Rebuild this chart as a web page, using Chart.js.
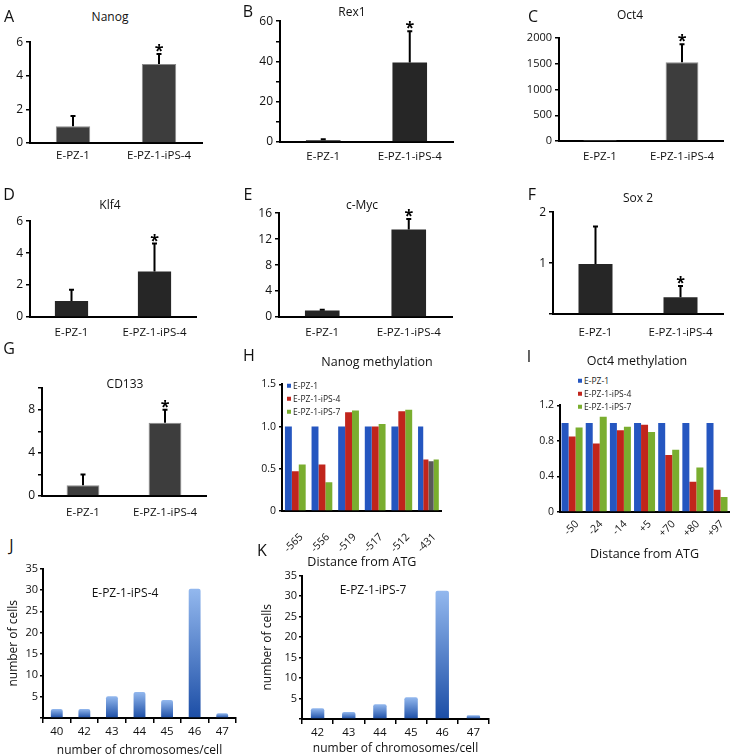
<!DOCTYPE html>
<html><head><meta charset="utf-8">
<script src="https://cdn.jsdelivr.net/npm/chart.js@4.4.1/dist/chart.umd.min.js"></script>
<style>
html,body{margin:0;padding:0;background:#fff;}
#root{position:relative;width:732px;height:756px;overflow:hidden;font-family:'Open Sans',sans-serif;color:#111;}
canvas{position:absolute;}
.t{position:absolute;white-space:nowrap;line-height:1;transform:translate(-50%,-50%);}
.lg{position:absolute;white-space:nowrap;line-height:1;font-size:8.5px;color:#222;transform:translateY(-50%);}
.sq{display:inline-block;width:4px;height:4px;margin-right:2px;vertical-align:middle;position:relative;top:-1px;}
</style></head><body><div id="root"></div>
<script>
// ---------------- DATA ----------------
const groups = ['E-PZ-1', 'E-PZ-1-iPS-4'];
const significant = [false, true];
const nanogExpr = [1, 4.7];     const nanogErr = [1.6, 5.3];
const rex1Expr  = [0.9, 39.5];  const rex1Err  = [1.4, 55];
const oct4Expr  = [1, 1530];    const oct4Err  = [null, 1880];
const klf4Expr  = [1, 2.85];    const klf4Err  = [1.7, 4.6];
const cmycExpr  = [1, 13.5];    const cmycErr  = [1.1, 15.1];
const sox2Expr  = [0.98, 0.33]; const sox2Err  = [1.72, 0.55];
const cd133Expr = [1, 6.8];     const cd133Err = [2, 8];

const seriesNames = ['E-PZ-1', 'E-PZ-1-iPS-4', 'E-PZ-1-iPS-7'];
const nanogSites = ['-565', '-556', '-519', '-517', '-512', '-431'];
const nanogMethEPZ1 = [1, 1, 1, 1, 1, 1];
const nanogMethIPS4 = [0.47, 0.55, 1.17, 1.0, 1.18, 0.61];
const nanogMethExtra = [null, null, null, null, null, 0.59];
const nanogMethIPS7 = [0.55, 0.34, 1.19, 1.03, 1.2, 0.61];

const oct4Sites = ['-50', '-24', '-14', '+5', '+70', '+80', '+97'];
const oct4MethEPZ1 = [1, 1, 1, 1, 1, 1, 1];
const oct4MethIPS4 = [0.85, 0.77, 0.92, 0.98, 0.64, 0.34, 0.25];
const oct4MethIPS7 = [0.95, 1.07, 0.96, 0.90, 0.70, 0.50, 0.17];

const chromosomesJ = ['40', '42', '43', '44', '45', '46', '47'];
const cellsJ = [2.1, 2.1, 5.1, 6.1, 4.2, 30.3, 1.1];
const chromosomesK = ['42', '43', '44', '45', '46', '47'];
const cellsK = [2.6, 1.7, 3.6, 5.3, 31.3, 0.9];

// ---------------- SETUP ----------------
const FONT = "'Open Sans', sans-serif";
Chart.defaults.font.family = FONT;
Chart.defaults.color = '#111';
Chart.defaults.animation = false;
const root = document.getElementById('root');

function addText(s, x, y, size, extra) {
  const d = document.createElement('div');
  d.className = 't'; d.textContent = s;
  d.style.left = x + 'px'; d.style.top = y + 'px'; d.style.fontSize = size + 'px';
  if (extra) Object.assign(d.style, extra);
  root.appendChild(d);
}
function addLegend(x, ys, colors) {
  seriesNames.forEach((n, i) => {
    const d = document.createElement('div');
    d.className = 'lg';
    d.style.left = x + 'px'; d.style.top = ys[i] + 'px';
    const s = document.createElement('span'); s.className = 'sq'; s.style.background = colors[i];
    d.appendChild(s); d.appendChild(document.createTextNode(n));
    root.appendChild(d);
  });
}

const errorBarPlugin = {
  id: 'errorBars',
  afterDatasetsDraw(chart, args, opts) {
    if (!opts || !opts.errors) return;
    const meta = chart.getDatasetMeta(0);
    const ys = chart.scales.y;
    const ctx = chart.ctx;
    ctx.save();
    opts.errors.forEach((e, i) => {
      const bar = meta.data[i]; if (!bar) return;
      let topY = bar.y;
      if (e != null) {
        topY = ys.getPixelForValue(e);
        ctx.strokeStyle = '#000'; ctx.lineWidth = 2;
        ctx.beginPath();
        ctx.moveTo(bar.x, bar.y); ctx.lineTo(bar.x, topY);
        ctx.moveTo(bar.x - 2.5, topY); ctx.lineTo(bar.x + 2.5, topY);
        ctx.stroke();
      }
      if (opts.stars && opts.stars[i]) {
        ctx.fillStyle = '#000'; ctx.font = 'bold 16px ' + FONT;
        ctx.textAlign = 'center'; ctx.textBaseline = 'alphabetic';
        ctx.fillText('*', bar.x, topY + 2);
      }
    });
    ctx.restore();
  }
};
Chart.register(errorBarPlugin);

function makeChart(box, config) {
  const c = document.createElement('canvas');
  const w = box.yW + (box.right - box.ax) + box.padR;
  const h = box.padT + (box.bottom - box.top) + box.xH;
  c.width = w; c.height = h;
  c.style.left = (box.ax - box.yW) + 'px'; c.style.top = (box.top - box.padT) + 'px';
  c.style.width = w + 'px'; c.style.height = h + 'px';
  root.appendChild(c);
  const o = config.options;
  o.responsive = false; o.maintainAspectRatio = false; o.devicePixelRatio = 1; o.animation = false;
  o.layout = {padding: {top: box.padT, right: box.padR, left: 0, bottom: 0}};
  o.scales.x.afterFit = s => { s.height = box.xH; };
  o.scales.y.afterFit = s => { s.width = box.yW; };
  o.plugins = o.plugins || {};
  o.plugins.legend = {display: false};
  o.plugins.tooltip = {enabled: false};
  return new Chart(c, config);
}

const axisBorder = {display: true, color: '#000', width: 2};

function exprChart(p) {
  const box = Object.assign({yW: 30, xH: 26, padT: 10, padR: 3}, p.box);
  makeChart(box, {
    type: 'bar',
    data: {labels: groups, datasets: [{
      data: p.values, backgroundColor: p.color,
      borderColor: p.border || p.color, borderWidth: p.border ? p.bw || 1 : 0,
      barPercentage: 0.4, categoryPercentage: 1
    }]},
    options: {
      plugins: {errorBars: {errors: p.errors, stars: significant}},
      scales: {
        x: {grid: {display: false, drawTicks: false}, border: axisBorder,
            ticks: {font: {size: 11.5}, padding: p.xPad, color: '#111'}},
        y: {min: 0, max: p.max,
            ticks: {stepSize: p.step, font: {size: p.yFont || 12}, padding: 3, color: '#111',
                    callback: v => ((v % p.every === 0) && !(p.hideZero && v === 0)) ? v : ''},
            grid: {drawOnChartArea: false, drawTicks: true, tickLength: 4, color: '#000', lineWidth: 1.5},
            border: axisBorder}
      }
    }
  });
}

// ---------------- PANELS A-G ----------------
exprChart({box: {ax: 30, top: 42, bottom: 143, right: 202}, values: nanogExpr, errors: nanogErr,
  max: 6, step: 1, every: 2, color: '#3d3d3d', border: '#8a8a8a', xPad: 6});
exprChart({box: {ax: 280, top: 21, bottom: 142, right: 453, yW: 32}, values: rex1Expr, errors: rex1Err,
  max: 60, step: 10, every: 20, color: '#262626', xPad: 8});
exprChart({box: {ax: 559, top: 38, bottom: 141, right: 723, yW: 42}, values: oct4Expr, errors: oct4Err,
  max: 2000, step: 500, every: 500, color: '#3d3d3d', border: '#8a8a8a', bw: [0, 1], xPad: 9, yFont: 11});
exprChart({box: {ax: 30, top: 221, bottom: 317, right: 196}, values: klf4Expr, errors: klf4Err,
  max: 6, step: 2, every: 2, color: '#262626', xPad: 9});
exprChart({box: {ax: 279, top: 213, bottom: 317, right: 452, yW: 32}, values: cmycExpr, errors: cmycErr,
  max: 16, step: 4, every: 4, color: '#262626', xPad: 9});
exprChart({box: {ax: 553, top: 212, bottom: 314, right: 723}, values: sox2Expr, errors: sox2Err,
  max: 2, step: 1, every: 1, hideZero: true, color: '#262626', xPad: 12});
exprChart({box: {ax: 42, top: 388, bottom: 496, right: 206}, values: cd133Expr, errors: cd133Err,
  max: 10, step: 2, every: 4, color: '#3d3d3d', border: '#8a8a8a', xPad: 10});

// ---------------- PANELS H, I ----------------
const BLUE = '#2556c0', RED = '#c1251c', GREEN = '#7aae2f', GRAY = '#595959';
function methScales(max, step, title, xPad, xOff) {
  return {
    x: {grid: {display: false, drawTicks: false}, border: axisBorder,
        ticks: {font: {size: 10.5}, padding: xPad, labelOffset: xOff, minRotation: 45, maxRotation: 45, autoSkip: false, color: '#111'},
        title: {display: true, text: title, font: {size: 12.5}, padding: {top: 0, bottom: 4}, color: '#111'}},
    y: {min: 0, max: max,
        ticks: {stepSize: step, font: {size: 10.5}, padding: 3, color: '#111',
                callback: v => v === 0 ? '0' : Number(v).toFixed(1)},
        grid: {drawOnChartArea: false, drawTicks: true, tickLength: 3, color: '#000', lineWidth: 1.5},
        border: axisBorder}
  };
}
makeChart({ax: 282, top: 383, bottom: 511, right: 450, yW: 30, xH: 63, padT: 8, padR: 8}, {
  type: 'bar',
  data: {labels: nanogSites, datasets: [
    {label: seriesNames[0], data: nanogMethEPZ1, backgroundColor: BLUE},
    {label: seriesNames[1], data: nanogMethIPS4, backgroundColor: RED},
    {label: '', data: nanogMethExtra, backgroundColor: GRAY},
    {label: seriesNames[2], data: nanogMethIPS7, backgroundColor: GREEN}
  ].map(d => Object.assign(d, {barPercentage: 1, categoryPercentage: 0.78, skipNull: true}))},
  options: {scales: methScales(1.5, 0.5, 'Distance from ATG', 20, 6)}
});
makeChart({ax: 560, top: 404, bottom: 512, right: 731, yW: 30, xH: 54, padT: 8, padR: 1}, {
  type: 'bar',
  data: {labels: oct4Sites, datasets: [
    {label: seriesNames[0], data: oct4MethEPZ1, backgroundColor: BLUE},
    {label: seriesNames[1], data: oct4MethIPS4, backgroundColor: RED},
    {label: seriesNames[2], data: oct4MethIPS7, backgroundColor: GREEN}
  ].map(d => Object.assign(d, {barPercentage: 1, categoryPercentage: 0.87}))},
  options: {scales: methScales(1.2, 0.4, 'Distance from ATG', 6, 5)}
});
addLegend(287, [386, 399, 412], [BLUE, RED, GREEN]);
addLegend(578, [381, 394, 407], [BLUE, RED, GREEN]);

// ---------------- PANELS J, K ----------------
function blueGrad(ctx) {
  const chart = ctx.chart;
  if (!chart.chartArea || ctx.type !== 'data' || !chart.scales.y) return '#3f72c8';
  const ys = chart.scales.y;
  const top = ys.getPixelForValue(ctx.raw), bot = ys.getPixelForValue(0);
  if (!(bot > top)) return '#3f72c8';
  const g = chart.ctx.createLinearGradient(0, top, 0, bot);
  g.addColorStop(0, '#93b8ee'); g.addColorStop(1, '#1c4ea6');
  return g;
}
function karyoChart(box, labels, values) {
  makeChart(box, {
    type: 'bar',
    data: {labels: labels, datasets: [{data: values, backgroundColor: blueGrad,
      barPercentage: 0.43, categoryPercentage: 1, borderRadius: 2, borderSkipped: 'start'}]},
    options: {scales: {
      x: {grid: {display: true, offset: true, drawOnChartArea: false, drawTicks: true, tickLength: 5, color: '#000', lineWidth: 1.5},
          border: axisBorder, ticks: {font: {size: 11.5}, padding: 2, color: '#111'},
          title: {display: true, text: 'number of chromosomes/cell', font: {size: 12}, padding: {top: 0, bottom: 0}, color: '#111'}},
      y: {min: 0, max: 35,
          ticks: {stepSize: 5, font: {size: 11}, padding: 2, color: '#111', callback: v => v === 0 ? '' : v},
          grid: {drawOnChartArea: false, drawTicks: true, tickLength: 3, color: '#000', lineWidth: 1.5},
          border: axisBorder,
          title: {display: true, text: 'number of cells', font: {size: 12}, padding: 0, color: '#111'}}
    }}
  });
}
karyoChart({ax: 43, top: 568, bottom: 718, right: 236, yW: 37, xH: 40, padT: 8, padR: 4}, chromosomesJ, cellsJ);
karyoChart({ax: 302, top: 575, bottom: 719, right: 489, yW: 42, xH: 37, padT: 8, padR: 4}, chromosomesK, cellsK);
addText('E-PZ-1-iPS-4', 125, 593, 12);
addText('E-PZ-1-iPS-7', 373, 590, 12);

// ---------------- TITLES & LETTERS ----------------
[['Nanog', 110, 17], ['Rex1', 352, 12], ['Oct4', 630, 15], ['Klf4', 110, 205], ['c-Myc', 362, 205],
 ['Sox 2', 638, 198], ['CD133', 125, 384], ['Nanog methylation', 377, 362], ['Oct4 methylation', 637, 361]]
  .forEach(t => addText(t[0], t[1], t[2], t[0].length > 8 ? 12.5 : 12));
[['A', 9, 15.5], ['B', 248, 11], ['C', 533, 15.5], ['D', 9, 193.5], ['E', 248, 193.5], ['F', 532, 193.5],
 ['G', 9, 348], ['H', 249, 355], ['I', 529, 356], ['J', 11.5, 545], ['K', 262, 550]]
  .forEach(t => addText(t[0], t[1], t[2], 16));
</script></body></html>
